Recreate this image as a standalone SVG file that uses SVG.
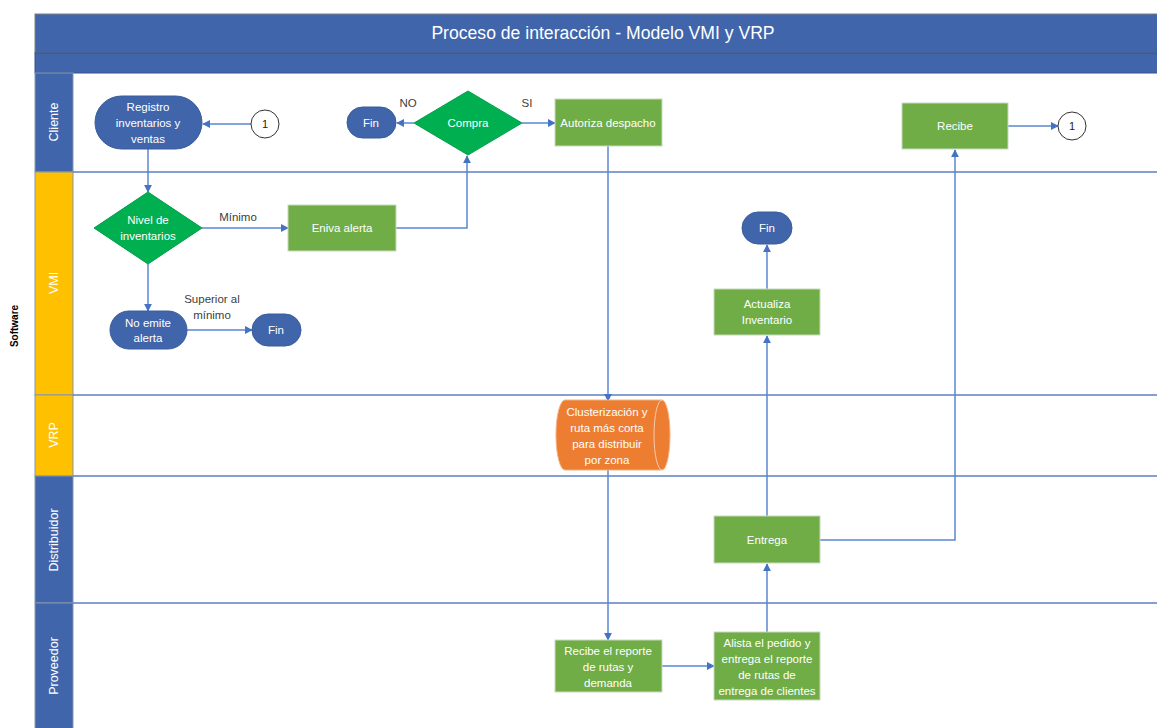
<svg xmlns="http://www.w3.org/2000/svg" width="1157" height="728" viewBox="0 0 1157 728">
<style>
.t{font-family:"Liberation Sans",Arial,sans-serif;font-size:11.5px;fill:#fff;text-anchor:middle}
.l{font-family:"Liberation Sans",Arial,sans-serif;font-size:11.5px;fill:#404040;text-anchor:middle}
.ln{font-family:"Liberation Sans",Arial,sans-serif;font-size:12.5px;fill:#fff;text-anchor:middle}
.blue{fill:#4065AB;stroke:#3A5C9C;stroke-width:1}
.green{fill:#70AD47;stroke:#C9D9C0;stroke-width:1}
.dia{fill:#00B050;stroke:#00A04A;stroke-width:1}
.c{fill:none;stroke:#5B86D0;stroke-width:1.5}
.div{stroke:#5B7FC0;stroke-width:1.5}
</style>
<defs>
<marker id="a" viewBox="0 0 10 10" refX="9" refY="5" markerWidth="8" markerHeight="8" markerUnits="userSpaceOnUse" orient="auto"><path d="M0,0 L10,5 L0,10 z" fill="#4472C4"/></marker>
</defs>
<rect width="1157" height="728" fill="#fff"/>
<g id="frame">
<rect x="35" y="14" width="1130" height="39" fill="#4065AB" stroke="#7F7F7F" stroke-width="1"/>
<rect x="35" y="53" width="1130" height="20" fill="#4065AB" stroke="#34548F" stroke-width="1"/>
<text x="603" y="39" font-family="Liberation Sans,Arial,sans-serif" font-size="17.6" fill="#fff" text-anchor="middle">Proceso de interacción - Modelo VMI y VRP</text>
<rect x="35" y="73" width="38" height="99" fill="#4065AB" stroke="#8497B0" stroke-width="1"/>
<rect x="35" y="172" width="38" height="223" fill="#FFC000" stroke="#8497B0" stroke-width="1"/>
<rect x="35" y="395" width="38" height="81" fill="#FFC000" stroke="#8497B0" stroke-width="1"/>
<rect x="35" y="476" width="38" height="127" fill="#4065AB" stroke="#8497B0" stroke-width="1"/>
<rect x="35" y="603" width="38" height="130" fill="#4065AB" stroke="#8497B0" stroke-width="1"/>
<text class="ln" transform="translate(58,122) rotate(-90)">Cliente</text>
<text class="ln" transform="translate(58,283) rotate(-90)">VMI</text>
<text class="ln" transform="translate(58,435) rotate(-90)">VRP</text>
<text class="ln" transform="translate(58,540) rotate(-90)">Distribuidor</text>
<text class="ln" transform="translate(58,666) rotate(-90)">Proveedor</text>
<text transform="translate(18,326) rotate(-90)" font-family="Liberation Sans,Arial,sans-serif" font-size="10" font-weight="bold" fill="#000" text-anchor="middle">Software</text>
<line class="div" x1="73" y1="172" x2="1157" y2="172"/>
<line class="div" x1="73" y1="395" x2="1157" y2="395"/>
<line class="div" x1="73" y1="476" x2="1157" y2="476"/>
<line class="div" x1="73" y1="603" x2="1157" y2="603"/>
</g>
<g id="connectors">
<line class="c" x1="251" y1="124" x2="203" y2="124" marker-end="url(#a)"/>
<line class="c" x1="148" y1="149" x2="148" y2="192" marker-end="url(#a)"/>
<line class="c" x1="202" y1="228" x2="288" y2="228" marker-end="url(#a)"/>
<polyline class="c" points="396,228 467,228 467,156" marker-end="url(#a)"/>
<line class="c" x1="414" y1="123" x2="397" y2="123" marker-end="url(#a)"/>
<line class="c" x1="522" y1="123" x2="555" y2="123" marker-end="url(#a)"/>
<line class="c" x1="148" y1="264" x2="148" y2="311" marker-end="url(#a)"/>
<line class="c" x1="187" y1="330" x2="252" y2="330" marker-end="url(#a)"/>
<line class="c" x1="608" y1="146" x2="608" y2="401" marker-end="url(#a)"/>
<line class="c" x1="608" y1="470" x2="608" y2="640" marker-end="url(#a)"/>
<line class="c" x1="662" y1="666" x2="714" y2="666" marker-end="url(#a)"/>
<line class="c" x1="767" y1="632" x2="767" y2="564" marker-end="url(#a)"/>
<line class="c" x1="767" y1="516" x2="767" y2="336" marker-end="url(#a)"/>
<line class="c" x1="767" y1="289" x2="767" y2="245" marker-end="url(#a)"/>
<polyline class="c" points="820,540 955,540 955,150" marker-end="url(#a)"/>
<line class="c" x1="1008" y1="126" x2="1058" y2="126" marker-end="url(#a)"/>
</g>
<g id="labels">
<text class="l" x="408" y="107">NO</text>
<text class="l" x="527" y="107">SI</text>
<text class="l" x="238" y="221">Mínimo</text>
<text class="l" x="212" y="303">Superior al</text>
<text class="l" x="212" y="319">mínimo</text>
</g>
<g id="n-registro"><rect class="blue" x="95" y="96" width="107" height="53" rx="26.5"/>
<text class="t" x="148" y="111">Registro</text><text class="t" x="148" y="127">inventarios y</text><text class="t" x="148" y="143">ventas</text></g>
<g id="n-c1"><circle cx="265" cy="124" r="14" fill="#fff" stroke="#333" stroke-width="1"/><text x="265" y="128" font-family="Liberation Sans,Arial,sans-serif" font-size="11" fill="#222" text-anchor="middle">1</text></g>
<g id="n-fin1"><rect class="blue" x="347" y="107" width="49" height="31" rx="15.5"/><text class="t" x="371" y="127">Fin</text></g>
<g id="n-compra"><polygon class="dia" points="468,91 522,123 468,155 414,123"/><text class="t" x="468" y="127">Compra</text></g>
<g id="n-autoriza"><rect class="green" x="555" y="99" width="107" height="47"/><text class="t" x="608" y="127">Autoriza despacho</text></g>
<g id="n-recibe"><rect class="green" x="902" y="103" width="106" height="46"/><text class="t" x="955" y="130">Recibe</text></g>
<g id="n-c2"><circle cx="1072" cy="126" r="14" fill="#fff" stroke="#333" stroke-width="1"/><text x="1072" y="130" font-family="Liberation Sans,Arial,sans-serif" font-size="11" fill="#222" text-anchor="middle">1</text></g>
<g id="n-nivel"><polygon class="dia" points="148,192 202,228 148,264 94,228"/><text class="t" x="148" y="224">Nivel de</text><text class="t" x="148" y="240">inventarios</text></g>
<g id="n-eniva"><rect class="green" x="288" y="205" width="108" height="46"/><text class="t" x="342" y="232">Eniva alerta</text></g>
<g id="n-noemite"><rect class="blue" x="110" y="311" width="77" height="38" rx="19"/><text class="t" x="148" y="327">No emite</text><text class="t" x="148" y="342">alerta</text></g>
<g id="n-fin2"><rect class="blue" x="252" y="314" width="49" height="32" rx="16"/><text class="t" x="276" y="334">Fin</text></g>
<g id="n-fin3"><rect class="blue" x="742" y="212" width="50" height="32" rx="16"/><text class="t" x="767" y="232">Fin</text></g>
<g id="n-actualiza"><rect class="green" x="714" y="289" width="106" height="46"/><text class="t" x="767" y="308">Actualiza</text><text class="t" x="767" y="324">Inventario</text></g>
<g id="n-cluster"><path d="M565,400 L662,400 A8,35 0 0 1 662,470 L565,470 A9,35 0 0 1 565,400 Z" fill="#ED7D31" stroke="#F4B183" stroke-width="1"/>
<path d="M662,400 A8,35 0 0 0 662,470" fill="none" stroke="#F8CBAD" stroke-width="1"/>
<text class="t" x="607" y="416">Clusterización y</text><text class="t" x="607" y="432">ruta más corta</text><text class="t" x="607" y="448">para distribuir</text><text class="t" x="607" y="464">por zona</text></g>
<g id="n-entrega"><rect class="green" x="714" y="516" width="106" height="47"/><text class="t" x="767" y="544">Entrega</text></g>
<g id="n-recibereporte"><rect class="green" x="555" y="640" width="107" height="52"/><text class="t" x="608" y="655">Recibe el reporte</text><text class="t" x="608" y="671">de rutas y</text><text class="t" x="608" y="687">demanda</text></g>
<g id="n-alista"><rect class="green" x="714" y="632" width="106" height="68"/><text class="t" x="767" y="647">Alista el pedido y</text><text class="t" x="767" y="663">entrega el reporte</text><text class="t" x="767" y="679">de rutas de</text><text class="t" x="767" y="695">entrega de clientes</text></g>
</svg>
